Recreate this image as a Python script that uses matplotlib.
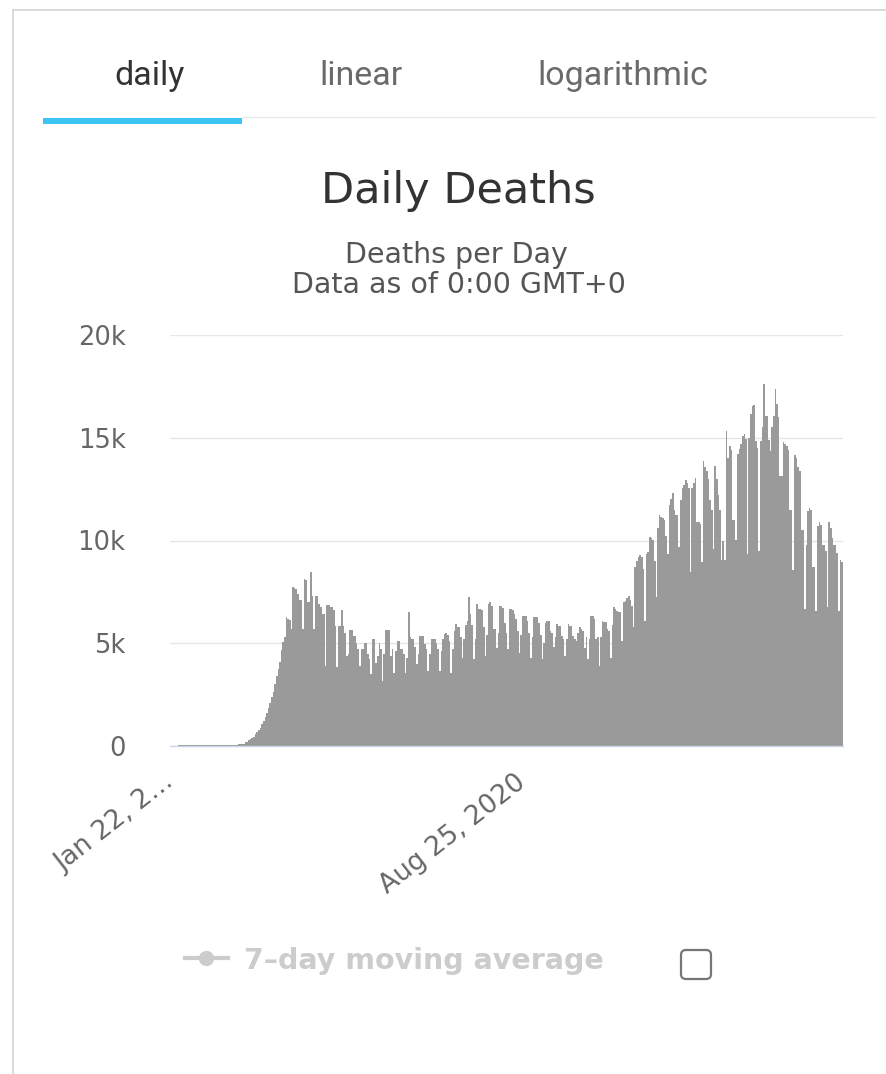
import numpy as np
import pandas as pd
import matplotlib
matplotlib.use('Agg')
import matplotlib.pyplot as plt
from matplotlib.lines import Line2D
from matplotlib.patches import Rectangle, FancyBboxPatch

# daily deaths, one value per day starting Jan 22, 2020
start_date = '2020-01-22'

deaths_jan_mar2020 = [
    17, 1, 8, 16, 14, 26, 26, 38, 43, 46,
    45, 57, 54, 56, 53, 58, 52, 55, 51, 56,
    48, 52, 47, 50, 49, 45, 44, 48, 46, 43,
    40, 42, 38, 36, 40, 38, 40, 45, 50, 55,
    60, 70, 80, 90, 95, 100, 180, 210, 270, 330,
    400, 460, 580, 700, 800, 900, 1050, 1200, 1400, 1620,
    1850, 2100, 2400, 2650, 3000, 3400, 3750, 4100, 4650, 5050,
]
deaths_apr_jun2020 = [
    5300, 6300, 6200, 6150,
    5680, 7740, 7700, 7650, 7400, 7120, 7100,
    5680, 8130, 8100, 7000, 7000, 8480, 7300,
    5680, 7300, 7300, 6900, 6760, 6420, 6420,
    3870, 6860, 6860, 6760, 6760, 6600, 5830,
    3820, 5850, 5850, 6630, 5850, 5500, 4380,
    4460, 5650, 5650, 5360, 5360, 5030, 4700,
    3900, 4700, 4700, 5030, 5030, 4500, 4250,
    3480, 5230, 5230, 4050, 4400, 5030, 4700,
    3150, 4500, 5650, 5650, 5650, 4380, 4700,
    3560, 4600, 5100, 5100, 4700, 4700, 4500,
    3560, 4300, 6530, 5300, 5190, 5190, 4800,
    3970, 4500, 5330, 5330, 5330, 4950, 4700,
    3645, 4500, 5190,
]
deaths_jul_sep2020 = [
    5190, 5190, 5030, 4700,
    3645, 4600, 5200, 5440, 5520, 5400, 5120,
    3560, 4700, 5610, 5930, 5800, 5770, 5300,
    4300, 5200, 5900, 6100, 7240, 6425, 5900,
    4220, 5200, 6910, 6670, 6670, 6600, 5800,
    4380, 5400, 6900, 6995, 6800, 5690, 5690,
    4790, 5500, 6830, 6830, 6700, 6000, 5500,
    4710, 6670, 6670, 6600, 6400, 6200, 5600,
    4545, 5400, 6345, 6345, 6345, 6100, 5500,
    4300, 5300, 6300, 6260, 6260, 6000, 5400,
    4220, 5000, 6000, 6100, 6100, 5610, 5500,
    4800, 5300, 5935, 5850, 5850, 5365, 5200,
    4400, 5200, 5935, 5850, 5850, 5365, 5200,
    5120, 5500, 5770, 5690,
]
deaths_oct_dec2020 = [
    5610, 4790, 5300,
    4220, 5200, 6345, 6345, 6200, 5200, 5300,
    3890, 5300, 6100, 6015, 6015, 5690, 5600,
    4300, 5900, 6750, 6670, 6590, 6510, 6510,
    5120, 7000, 7075, 7200, 7320, 7100, 6800,
    5770, 8710, 9000, 9200, 9280, 9200, 8600,
    6100, 9365, 9445, 10180, 10100, 10020, 9000,
    7240, 10590, 11240, 11160, 11080, 11000, 10200,
    9365, 11730, 12000, 12310, 11500, 11240, 11240,
    9690, 11980, 12550, 12700, 12960, 12800, 12550,
    8470, 12550, 12800, 13040, 10915, 10915, 10800,
    8955, 13860, 13600, 13370, 13000, 11980, 11500,
    9610, 13615, 13000, 12225, 11500, 9035, 10000,
    9035, 15330, 14020, 14600, 14400,
]
deaths_jan_mar2021 = [
    11000, 11000,
    10020, 14190, 14430, 14680, 15090, 15170, 14920,
    9363, 15000, 16150, 16560, 16600, 14840, 14500,
    9477, 14840, 15500, 17615, 16070, 16062, 14900,
    14347, 15500, 16062, 17370, 16633, 16000, 13121,
    13121, 14804, 14700, 14591, 14400, 11487, 11487,
    8546, 14150, 14000, 13600, 13366, 10507, 10507,
    6667, 9800, 11438, 11569, 11500, 8709, 8709,
    6585, 10700, 10915, 10752, 9771, 9771, 9500,
    6748, 10915, 10600, 10098, 9771, 9771, 9400,
    6585, 9036, 8955,
]

y_ticks = [0, 5000, 10000, 15000, 20000]
y_tick_labels = ['0', '5k', '10k', '15k', '20k']
x_tick_dates = ['2020-01-22', '2020-08-25']
x_tick_labels = ['Jan 22, 2\u2026', 'Aug 25, 2020']
tabs = ['daily', 'linear', 'logarithmic']
legend_label = '7\u2013day moving average'

W, H = 886, 1074


def inch(x, y):
    # pixel position measured from the top left -> inches from bottom left
    return x / 100.0, (H - y) / 100.0


if __name__ == '__main__':

    deaths = np.array(deaths_jan_mar2020 + deaths_apr_jun2020 + deaths_jul_sep2020
                      + deaths_oct_dec2020 + deaths_jan_mar2021)
    n = len(deaths)
    dates = pd.date_range(start_date, periods=n, freq='D')
    tick_idx = [dates.get_loc(pd.Timestamp(d)) for d in x_tick_dates]

    fig = plt.figure(figsize=(W / 100.0, H / 100.0), dpi=100)
    fig.patch.set_facecolor('white')
    tr = fig.dpi_scale_trans

    # card frame
    fig.add_artist(Line2D([13 / 100.0, 13 / 100.0], [0, (H - 10) / 100.0],
                          transform=tr, color='#d4d4d4', lw=1.2))
    fig.add_artist(Line2D([13 / 100.0, W / 100.0], [(H - 10) / 100.0, (H - 10) / 100.0],
                          transform=tr, color='#d4d4d4', lw=1.2))

    # tabs
    for label, tx in zip(tabs, [150, 361, 623]):
        col = '#333333' if label == 'daily' else '#6a6a6a'
        fig.text(*inch(tx, 76), label, transform=tr, ha='center', va='center',
                 fontsize=24.5, family='Roboto', color=col)
    fig.add_artist(Line2D([242 / 100.0, 875 / 100.0], [(H - 117) / 100.0] * 2,
                          transform=tr, color='#e8e8e8', lw=0.9))
    fig.add_artist(Rectangle(inch(43, 124), 1.99, 0.06, transform=tr,
                             facecolor='#3cc4f2', edgecolor='none'))

    # titles
    fig.text(*inch(458, 203), 'Daily Deaths', transform=tr, ha='center',
             va='baseline', fontsize=31, color='#333333', family='DejaVu Sans')
    fig.text(*inch(456, 263), 'Deaths per Day', transform=tr, ha='center',
             va='baseline', fontsize=20.5, color='#555555', family='DejaVu Sans')
    fig.text(*inch(459, 293), 'Data as of 0:00 GMT+0', transform=tr, ha='center',
             va='baseline', fontsize=20.5, color='#555555', family='DejaVu Sans')

    # chart
    ax = fig.add_axes([170.0 / W, (H - 746.0) / H, 673.0 / W, 411.0 / H])
    ax.bar(np.arange(n), deaths, width=1.0, color='#9a9a9a', linewidth=0)
    ax.set_xlim(-0.5, n - 0.5)
    ax.set_ylim(0, 20000)
    ax.set_axisbelow(True)
    ax.yaxis.grid(True, color='#e6e6e6', linewidth=1.0)
    for s in ['left', 'right', 'top']:
        ax.spines[s].set_visible(False)
    ax.spines['bottom'].set_color('#ccd6eb')
    ax.spines['bottom'].set_linewidth(1.0)

    ax.set_yticks(y_ticks)
    ax.set_yticklabels(y_tick_labels, fontsize=18.5, color='#666666')
    ax.tick_params(axis='y', length=0, pad=32)

    ax.set_xticks(tick_idx)
    ax.set_xticklabels(x_tick_labels, rotation=38, ha='right', va='center',
                       rotation_mode='anchor', fontsize=19, color='#666666')
    ax.tick_params(axis='x', length=0, pad=24)

    # legend (hidden series) and checkbox
    fig.add_artist(Line2D([185 / 100.0, 228 / 100.0], [(H - 958) / 100.0] * 2,
                          transform=tr, color='#cccccc', lw=3))
    fig.add_artist(Line2D([206 / 100.0], [(H - 958) / 100.0], transform=tr,
                          marker='o', markersize=10, color='#cccccc', lw=0))
    fig.text(*inch(244, 969), legend_label, transform=tr, ha='left',
             va='baseline', fontsize=20.5, fontweight='bold', color='#cccccc',
             family='DejaVu Sans')
    fig.add_artist(FancyBboxPatch(inch(681, 979), 0.30, 0.29,
                                  boxstyle='round,pad=0,rounding_size=0.05',
                                  transform=tr, facecolor='white',
                                  edgecolor='#767676', lw=1.6))

    fig.savefig('out.png', dpi=100, facecolor='white')
